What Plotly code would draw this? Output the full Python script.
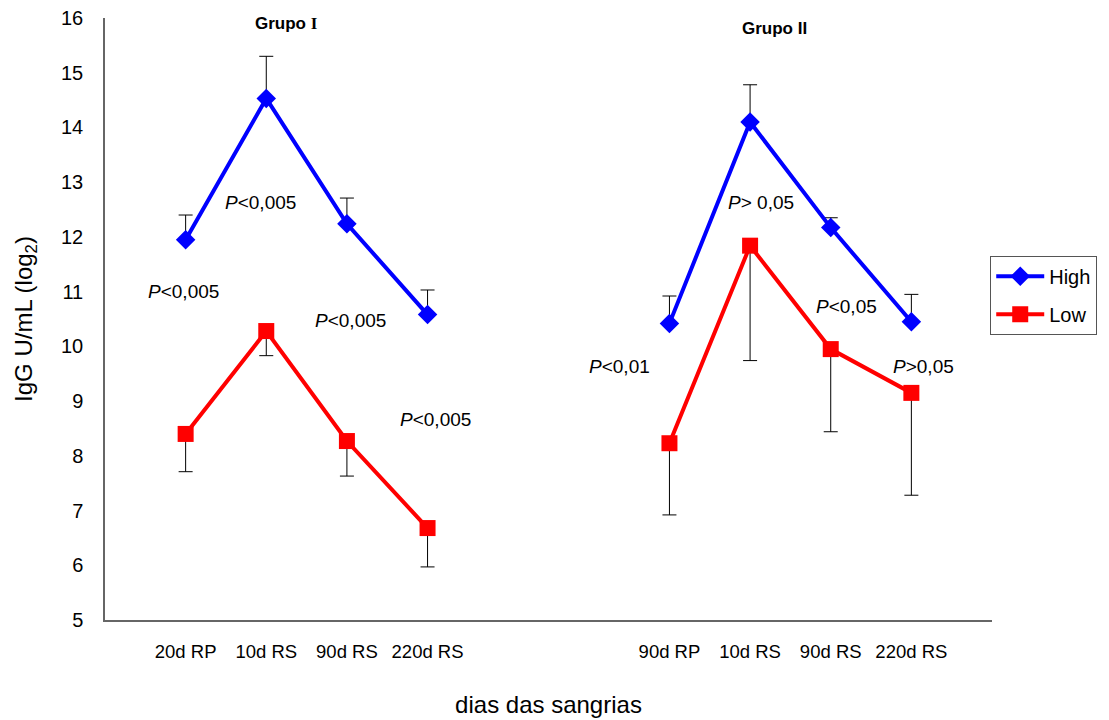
import plotly.graph_objects as go

# Bleeding days (two groups of four)
group1_days = ["20d RP", "10d RS", "90d RS", "220d RS"]
group2_days = ["90d RP", "10d RS", "90d RS", "220d RS"]

# IgG titres (log2) and error bars
high_g1 = [11.95, 14.53, 12.24, 10.58]
high_g1_err = [0.45, 0.77, 0.47, 0.45]
low_g1 = [8.40, 10.28, 8.27, 6.68]
low_g1_err = [0.69, 0.45, 0.64, 0.71]

high_g2 = [10.42, 14.10, 12.17, 10.45]
high_g2_err = [0.50, 0.68, 0.18, 0.50]
low_g2 = [8.23, 11.84, 9.95, 9.15]
low_g2_err = [1.31, 2.10, 1.51, 1.87]

# p-value labels: (text, x position, y value)
p_labels = [
    ("<0,005", 0.93, 12.63),
    ("<0,005", -0.03, 11.0),
    ("<0,005", 2.05, 10.47),
    ("<0,005", 3.1, 8.66),
    ("> 0,05", 7.13, 12.63),
    ("<0,05", 8.2, 10.73),
    ("<0,01", 5.38, 9.63),
    (">0,05", 9.15, 9.63),
]

x_g1 = [i for i in range(len(group1_days))]
x_g2 = [i + 6 for i in range(len(group2_days))]

FONT = "Liberation Sans, Arial, sans-serif"
BLUE = "#0000FF"
RED = "#FF0000"

fig = go.Figure()

def add_series(x, y, err, color, symbol, size, name, up, show):
    fig.add_trace(go.Scatter(
        x=x, y=y, mode="lines+markers", name=name,
        legendgroup=name, showlegend=show,
        line=dict(color=color, width=4),
        marker=dict(symbol=symbol, size=size, color=color),
        error_y=dict(
            type="data", symmetric=False,
            array=err if up else [0] * len(err),
            arrayminus=[0] * len(err) if up else err,
            color="black", thickness=1, width=7,
        ),
    ))

add_series(x_g1, high_g1, high_g1_err, BLUE, "diamond", 15, "High", True, True)
add_series(x_g2, high_g2, high_g2_err, BLUE, "diamond", 15, "High", True, False)
add_series(x_g1, low_g1, low_g1_err, RED, "square", 16, "Low", False, True)
add_series(x_g2, low_g2, low_g2_err, RED, "square", 16, "Low", False, False)

for text, xp, yp in p_labels:
    fig.add_annotation(
        x=xp, y=yp, xref="x", yref="y", showarrow=False,
        text="<i>P</i>" + text,
        font=dict(family=FONT, size=19, color="black"),
    )

fig.add_annotation(
    x=1.25, y=15.9, xref="x", yref="y", showarrow=False,
    text="<b>Grupo </b><span style='font-family:Liberation Serif'><b>I</b></span>",
    font=dict(family=FONT, size=17, color="black"),
)
fig.add_annotation(
    x=7.3, y=15.8, xref="x", yref="y", showarrow=False,
    text="<b>Grupo II</b>",
    font=dict(family=FONT, size=17, color="black"),
)

fig.update_layout(
    width=1109, height=720,
    margin=dict(l=105, r=114, t=18, b=100),
    plot_bgcolor="white", paper_bgcolor="white",
    font=dict(family=FONT, color="black"),
    legend=dict(
        x=0.998, y=0.605, xanchor="left", yanchor="top",
        bordercolor="#555555", borderwidth=1,
        font=dict(family=FONT, size=20),
        tracegroupgap=9, itemwidth=48,
    ),
)

fig.update_xaxes(
    range=[-1, 10],
    tickvals=x_g1 + x_g2,
    ticktext=group1_days + group2_days,
    tickfont=dict(size=18.5),
    showgrid=False, zeroline=False, automargin=False,
    showline=True, linecolor="#666666", linewidth=1.5,
    ticks="", ticklen=0, ticklabelstandoff=14,
    title=dict(text="dias das sangrias", font=dict(size=24), standoff=35),
)
fig.update_yaxes(
    range=[5, 16], dtick=1,
    tickfont=dict(size=20),
    showgrid=False, zeroline=False, automargin=False,
    showline=True, linecolor="#666666", linewidth=1.5,
    ticks="", ticklabelstandoff=16,
    title=dict(text="IgG U/mL (log<sub>2</sub>)", font=dict(size=24), standoff=22),
)

fig.write_html("out.html")
